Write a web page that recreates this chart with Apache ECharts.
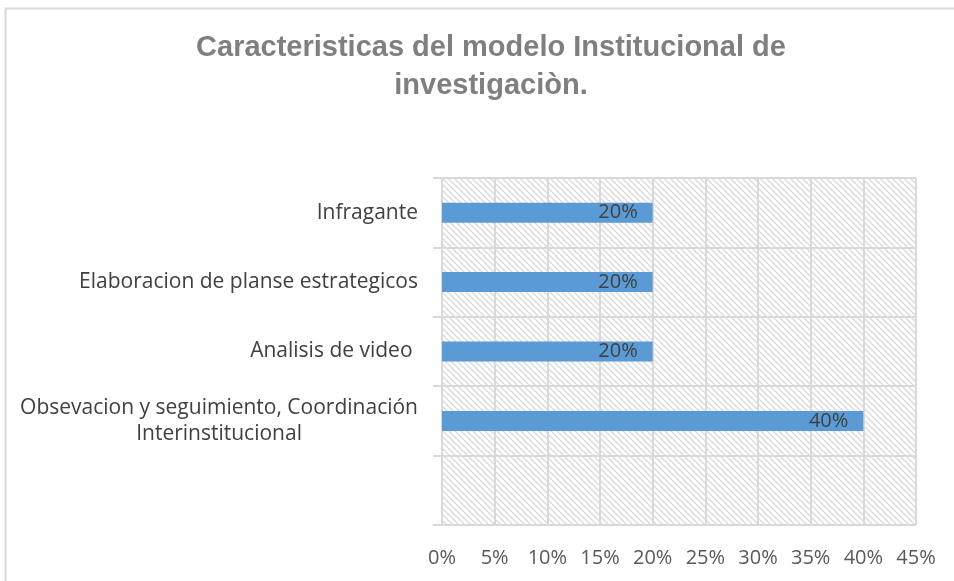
<!DOCTYPE html>
<html>
<head>
<meta charset="utf-8">
<script src="https://cdn.jsdelivr.net/npm/echarts@6/dist/echarts.min.js"></script>
<style>
  html, body { margin: 0; padding: 0; background: #fff; }
  #chart { width: 954px; height: 581px; }
</style>
</head>
<body>
<div id="chart"></div>
<script>
const categories = [
  "Infragante",
  "Elaboracion de planse estrategicos",
  "Analisis de video ",
  "Obsevacion y seguimiento, Coordinación\nInterinstitucional",
  ""
];
const values = [20, 20, 20, 40, null];
const xTicks = { min: 0, max: 45, interval: 5 };

// diagonal hatch for the plot area
const hatch = document.createElement("canvas");
hatch.width = 6;
hatch.height = 6;
const hc = hatch.getContext("2d");
hc.fillStyle = "#ffffff";
hc.fillRect(0, 0, 6, 6);
hc.strokeStyle = "#d9d9d9";
hc.lineWidth = 1.3;
hc.beginPath();
hc.moveTo(-1, -1); hc.lineTo(7, 7);
hc.moveTo(-4, 2); hc.lineTo(4, 10);
hc.moveTo(2, -4); hc.lineTo(10, 4);
hc.stroke();

const chart = echarts.init(document.getElementById("chart"));
chart.setOption({
  animation: false,
  textStyle: { fontFamily: "Open Sans" },
  title: {
    text: "Caracteristicas del modelo Institucional de\ninvestigaciòn.",
    left: 486,
    textAlign: "center",
    top: 24,
    textStyle: {
      fontFamily: "Liberation Sans",
      fontSize: 29,
      fontWeight: "bold",
      color: "#7f7f7f",
      lineHeight: 38
    }
  },
  graphic: [{
    type: "rect",
    shape: { x: 5.5, y: 8.5, width: 1000, height: 1000 },
    style: { fill: "none", stroke: "#d9d9d9", lineWidth: 2 },
    silent: true
  }],
  grid: {
    left: 442,
    right: 38,
    top: 178,
    bottom: 56,
    show: true,
    borderWidth: 0,
    backgroundColor: { image: hatch, repeat: "repeat" }
  },
  xAxis: {
    type: "value",
    min: xTicks.min,
    max: xTicks.max,
    interval: xTicks.interval,
    axisLine: { show: false },
    axisTick: { show: false },
    axisLabel: {
      formatter: "{value}%",
      color: "#595959",
      fontSize: 20,
      margin: 23
    },
    splitLine: { lineStyle: { color: "#d9d9d9", width: 2 } }
  },
  yAxis: {
    type: "category",
    inverse: true,
    data: categories,
    axisLine: { show: true, lineStyle: { color: "#d9d9d9", width: 2 } },
    axisTick: { show: true, length: 9, lineStyle: { color: "#d9d9d9", width: 2 } },
    splitLine: { show: true, lineStyle: { color: "#d9d9d9", width: 2 } },
    axisLabel: {
      margin: 24,
      color: "#404040",
      fontSize: 21,
      lineHeight: 26,
      formatter: function (v) {
        return v.split("\n").map(function (l) { return "{c|" + l + "}"; }).join("\n");
      },
      rich: {
        c: { align: "center", fontSize: 21, color: "#404040", lineHeight: 26, fontFamily: "Open Sans" }
      }
    }
  },
  series: [{
    type: "bar",
    data: values,
    barWidth: 20,
    itemStyle: { color: "#5b9bd5" },
    label: {
      show: true,
      position: "insideRight",
      distance: 15,
      formatter: "{c}%",
      color: "#404040",
      fontSize: 20
    }
  }]
});
</script>
</body>
</html>
